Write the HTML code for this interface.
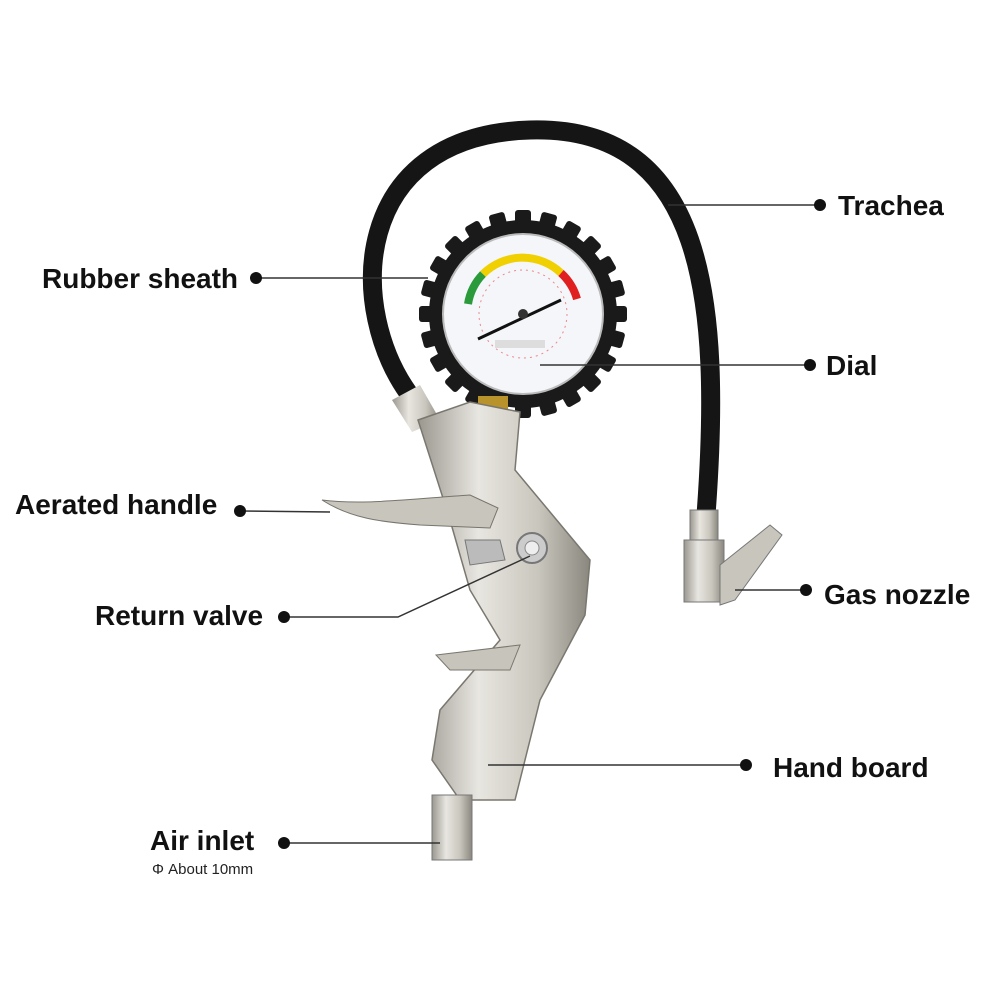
<!DOCTYPE html>
<html><head><meta charset="utf-8"><style>
html,body{margin:0;padding:0;background:#fff;}
svg{display:block}
text{font-family:"Liberation Sans",sans-serif;}
.l{font-weight:bold;font-size:28px;fill:#111;}
</style></head><body>
<svg width="1002" height="1002" viewBox="0 0 1002 1002" xmlns="http://www.w3.org/2000/svg">
<defs>
<linearGradient id="metal" x1="0" y1="0" x2="1" y2="0">
<stop offset="0" stop-color="#9a978f"/><stop offset="0.35" stop-color="#e8e6e0"/><stop offset="0.7" stop-color="#c9c6bd"/><stop offset="1" stop-color="#8a877f"/>
</linearGradient>
</defs>
<!-- hose -->
<path d="M412,398 C345,310 350,135 530,130 C705,125 722,300 706,515" fill="none" stroke="#151515" stroke-width="19" stroke-linecap="round"/>
<!-- gauge teeth -->
<g transform="translate(523,314)">
<circle r="94" fill="#1a1a1a"/>
<g fill="#1a1a1a">
<rect x="-8" y="-104" width="16" height="20" rx="3" transform="rotate(0)"/>
<rect x="-8" y="-104" width="16" height="20" rx="3" transform="rotate(15)"/>
<rect x="-8" y="-104" width="16" height="20" rx="3" transform="rotate(30)"/>
<rect x="-8" y="-104" width="16" height="20" rx="3" transform="rotate(45)"/>
<rect x="-8" y="-104" width="16" height="20" rx="3" transform="rotate(60)"/>
<rect x="-8" y="-104" width="16" height="20" rx="3" transform="rotate(75)"/>
<rect x="-8" y="-104" width="16" height="20" rx="3" transform="rotate(90)"/>
<rect x="-8" y="-104" width="16" height="20" rx="3" transform="rotate(105)"/>
<rect x="-8" y="-104" width="16" height="20" rx="3" transform="rotate(120)"/>
<rect x="-8" y="-104" width="16" height="20" rx="3" transform="rotate(135)"/>
<rect x="-8" y="-104" width="16" height="20" rx="3" transform="rotate(150)"/>
<rect x="-8" y="-104" width="16" height="20" rx="3" transform="rotate(165)"/>
<rect x="-8" y="-104" width="16" height="20" rx="3" transform="rotate(180)"/>
<rect x="-8" y="-104" width="16" height="20" rx="3" transform="rotate(195)"/>
<rect x="-8" y="-104" width="16" height="20" rx="3" transform="rotate(210)"/>
<rect x="-8" y="-104" width="16" height="20" rx="3" transform="rotate(225)"/>
<rect x="-8" y="-104" width="16" height="20" rx="3" transform="rotate(240)"/>
<rect x="-8" y="-104" width="16" height="20" rx="3" transform="rotate(255)"/>
<rect x="-8" y="-104" width="16" height="20" rx="3" transform="rotate(270)"/>
<rect x="-8" y="-104" width="16" height="20" rx="3" transform="rotate(285)"/>
<rect x="-8" y="-104" width="16" height="20" rx="3" transform="rotate(300)"/>
<rect x="-8" y="-104" width="16" height="20" rx="3" transform="rotate(315)"/>
<rect x="-8" y="-104" width="16" height="20" rx="3" transform="rotate(330)"/>
<rect x="-8" y="-104" width="16" height="20" rx="3" transform="rotate(345)"/>
</g>
<circle r="80" fill="#f4f6fa" stroke="#bbb" stroke-width="2"/>
<path d="M-55,-10 A56,56 0 0 1 -40,-40" fill="none" stroke="#2a9a3a" stroke-width="8"/>
<path d="M-40,-40 A56,56 0 0 1 38,-41" fill="none" stroke="#f0d000" stroke-width="8"/>
<path d="M38,-41 A56,56 0 0 1 54,-15" fill="none" stroke="#e02020" stroke-width="8"/>
<circle r="44" fill="none" stroke="#e88" stroke-width="1" stroke-dasharray="2 4"/>
<line x1="-45" y1="25" x2="38" y2="-14" stroke="#111" stroke-width="3"/>
<circle r="5" fill="#333"/>
<rect x="-28" y="26" width="50" height="8" fill="#ddd"/>
</g>
<rect x="478" y="396" width="30" height="24" fill="#b8922a"/>
<path d="M392,400 L420,385 L440,420 L412,432 Z" fill="url(#metal)"/>
<path d="M418,420 L470,402 L520,412 L515,470 L590,560 L585,615 L540,700 L515,800 L460,800 L432,760 L440,710 L500,640 L470,590 L450,520 Z" fill="url(#metal)" stroke="#7a776f" stroke-width="1.5"/>
<path d="M436,655 L520,645 L510,670 L450,670 Z" fill="#c7c4bb" stroke="#7a776f"/>
<path d="M322,500 C360,505 400,500 470,495 L498,508 L490,528 L420,525 C380,522 350,518 322,500 Z" fill="#c8c5bd" stroke="#77746c"/>
<circle cx="532" cy="548" r="15" fill="#ccc" stroke="#777" stroke-width="2"/>
<circle cx="532" cy="548" r="7" fill="#eee" stroke="#888"/>
<path d="M465,540 L500,540 L505,560 L470,565 Z" fill="#bbb" stroke="#777"/>
<rect x="432" y="795" width="40" height="65" fill="url(#metal)" stroke="#777"/>
<rect x="690" y="510" width="28" height="30" fill="url(#metal)" stroke="#777"/>
<rect x="684" y="540" width="40" height="62" fill="url(#metal)" stroke="#777"/>
<path d="M720,565 L770,525 L782,535 L735,600 L720,605 Z" fill="#c8c5bd" stroke="#777"/>
<g stroke="#333" stroke-width="1.5" fill="none">
<line x1="668" y1="205" x2="820" y2="205"/>
<line x1="256" y1="278" x2="428" y2="278"/>
<line x1="540" y1="365" x2="810" y2="365"/>
<line x1="240" y1="511" x2="330" y2="512"/>
<polyline points="284,617 398,617 530,556"/>
<line x1="735" y1="590" x2="806" y2="590"/>
<line x1="488" y1="765" x2="746" y2="765"/>
<line x1="284" y1="843" x2="440" y2="843"/>
</g>
<g fill="#111">
<circle cx="820" cy="205" r="6"/><circle cx="256" cy="278" r="6"/><circle cx="810" cy="365" r="6"/>
<circle cx="240" cy="511" r="6"/><circle cx="284" cy="617" r="6"/><circle cx="806" cy="590" r="6"/>
<circle cx="746" cy="765" r="6"/><circle cx="284" cy="843" r="6"/>
</g>
<text class="l" x="838" y="215">Trachea</text>
<text class="l" x="42" y="288">Rubber sheath</text>
<text class="l" x="826" y="375">Dial</text>
<text class="l" x="15" y="514">Aerated handle</text>
<text class="l" x="95" y="625">Return valve</text>
<text class="l" x="824" y="604">Gas nozzle</text>
<text class="l" x="773" y="777">Hand board</text>
<text class="l" x="150" y="850">Air inlet</text>
<text x="152" y="874" font-size="15" fill="#222">Φ About 10mm</text>
</svg>
</body></html>
